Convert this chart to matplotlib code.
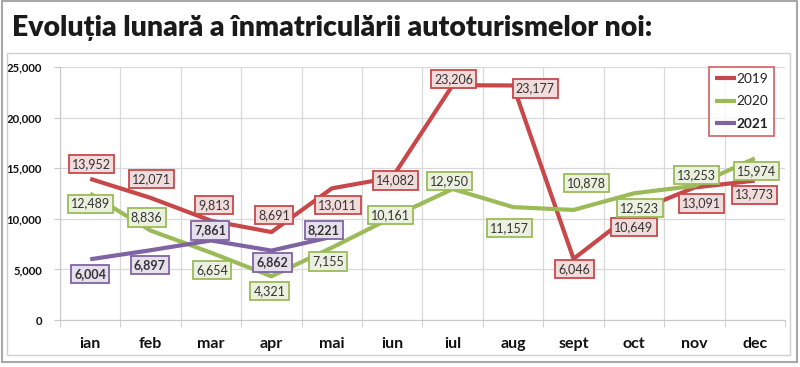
import matplotlib
matplotlib.use("Agg")
import matplotlib.pyplot as plt
from matplotlib.patches import Rectangle
import numpy as np

months = ["ian", "feb", "mar", "apr", "mai", "iun", "iul", "aug", "sept", "oct", "nov", "dec"]
y2019 = [13952, 12071, 9813, 8691, 13011, 14082, 23206, 23177, 6046, 10649, 13091, 13773]
y2020 = [12489, 8836, 6654, 4321, 7155, 10161, 12950, 11157, 10878, 12523, 13253, 15974]
y2021 = [6004, 6897, 7861, 6862, 8221]
series_names = ["2019", "2020", "2021"]

# label offsets in pixels (dx, dy), placed by hand like in the excel original
off2019 = [(1, 15), (1, 19), (3, 16), (3, 17), (6, -17), (3, -3), (1, 6), (22, -3), (1, -10), (0, -15), (7, -16), (0, -14)]
off2020 = [(0, -10), (-4, 13), (1, -17), (-2, -15), (-4, -14), (-2, 2), (-3, 8), (-4, -21), (13, 27), (6, -15), (2, 11), (2, -13)]
off2021 = [(0, -15), (-1, -15), (-1, 10), (1, -12), (-8, 7)]

RED, GREEN, PURPLE = "#c8484a", "#9bbb59", "#8064a2"
FILLS = {RED: "#f2dcdb", GREEN: "#ebf1de", PURPLE: "#e5e0ec"}

fig = plt.figure(figsize=(8, 3.67), dpi=100)
ax = fig.add_axes([0.075, 0.128, 0.90625, 0.6894])

# frames
fig.patches.append(Rectangle((7 / 800, 1 - 355 / 367), 783 / 800, 302 / 367, transform=fig.transFigure,
                             fill=False, edgecolor="#d0d0d0", lw=1.0, zorder=0))
fig.patches.append(Rectangle((2 / 800, 1 - 362 / 367), 795 / 800, 361 / 367, transform=fig.transFigure,
                             fill=False, edgecolor="#a8a8a8", lw=1.5, zorder=0))

fig.text(12 / 800, 1 - 36 / 367, "Evoluția lunară a înmatriculării autoturismelor noi:",
         fontsize=20.4, fontweight="heavy", color="#1a1a1a",
         family=["Lato", "DejaVu Sans"], ha="left", va="baseline")

x = np.arange(len(months))
lines = []
for vals, col, offs, name, bold in [(y2019, RED, off2019, series_names[0], False),
                                     (y2020, GREEN, off2020, series_names[1], False),
                                     (y2021, PURPLE, off2021, series_names[2], True)]:
    xs = x[:len(vals)]
    ln, = ax.plot(xs, vals, color=col, lw=3.0, label=name, zorder=3, solid_capstyle="butt")
    lines.append(ln)
    for xi, v, (dx, dy) in zip(xs, vals, offs):
        ax.annotate("{:,}".format(v), xy=(xi, v), xytext=(dx, dy), textcoords="offset pixels",
                    ha="center", va="center", fontsize=9, family="Lato",
                    fontweight="bold" if bold else "normal", color="#333333", zorder=5,
                    bbox=dict(boxstyle="square,pad=0.25", fc=FILLS[col], ec=col, lw=1.3))

ax.set_xlim(-0.5, 11.5)
ax.set_ylim(0, 25000)
ax.set_yticks(range(0, 25001, 5000))
ax.set_yticklabels(["{:,}".format(v) for v in range(0, 25001, 5000)], fontsize=8.2,
                   fontweight="bold", family="Lato", color="#111111")
ax.set_xticks(x)
ax.set_xticklabels(months, fontsize=11.5, fontweight="bold", family="Lato", color="#111111")
ax.set_xticks(np.arange(-0.5, 12, 1), minor=True)
ax.tick_params(axis="x", which="major", length=0, pad=12)
ax.tick_params(axis="x", which="minor", length=5, color="#c8c8c8", direction="out")
ax.tick_params(axis="y", length=4, color="#c8c8c8", pad=9)
ax.grid(True, which="minor", axis="x", color="#d9d9d9", lw=0.9)
ax.grid(True, which="major", axis="y", color="#d9d9d9", lw=0.9)
for s in ["top", "right"]:
    ax.spines[s].set_visible(False)
for s in ["left", "bottom"]:
    ax.spines[s].set_color("#c8c8c8")
ax.set_axisbelow(True)

leg = ax.legend(handles=lines, loc="upper left", bbox_to_anchor=(709 / 800, 1 - 67 / 367),
                bbox_transform=fig.transFigure, frameon=True, fancybox=False,
                prop={"family": "Lato", "size": 9.8}, handlelength=1.5, handletextpad=0.05,
                borderpad=0.45, labelspacing=0.75, borderaxespad=0)
leg.get_frame().set_edgecolor(RED)
leg.get_frame().set_linewidth(1.3)
leg.get_texts()[2].set_fontweight("bold")
for t in leg.get_texts():
    t.set_color("#222222")

fig.savefig("out.png", dpi=100)
